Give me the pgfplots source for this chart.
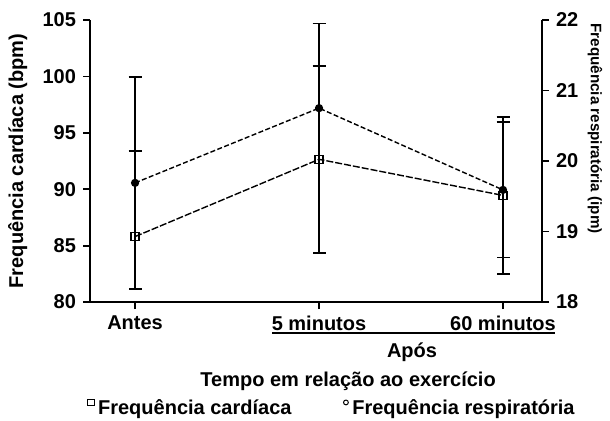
\documentclass[border=0pt]{standalone}
\usepackage{fontspec}
\setmainfont{Liberation Sans}
\usepackage{pgfplots}
\pgfplotsset{compat=1.18}
\begin{document}
\bfseries
\begin{tikzpicture}[font=\bfseries]
\pgfplotsset{
  base/.style={
    width=226pt, height=141pt, scale only axis,
    xmin=-0.245, xmax=2.212,
    tick align=outside, major tick length=3.5pt,
    tick style={line width=0.9pt, black},
    axis line style={line width=1pt},
    /pgf/number format/assume math mode=true,
    tick label style={font=\bfseries\fontsize{10}{12}\selectfont},
    label style={font=\bfseries\fontsize{10}{12}\selectfont},
  },
  ebar/.style={draw=none, mark=none, forget plot,
    error bars/.cd, y dir=#1, y explicit,
    error bar style={draw=black, solid, line width=0.9pt},
    error mark options={draw=black, solid, rotate=90, mark size=3.25pt, line width=0.9pt}},
}
\begin{axis}[base,
  axis x line*=bottom, axis y line*=left,
  ymin=80, ymax=105, ytick={80,85,90,95,100,105},
  xtick={0,1,2}, xticklabels={Antes,5 minutos,60 minutos},
  ylabel={Frequência cardíaca (bpm)},
  ylabel style={at={(axis description cs:-0.16,0.5)}, anchor=center},
  xlabel={Tempo em relação ao exercício},
  xlabel style={at={(axis description cs:0.571,-0.28)}, anchor=center},
  legend style={at={(axis description cs:0.538,-0.376)}, anchor=center, draw=none,
    font=\bfseries\fontsize{10}{12}\selectfont, legend columns=2,
    /tikz/every even column/.append style={column sep=24pt}},
  legend image code/.code={\draw[#1] plot coordinates {(0pt,2.8pt)};},
]
\addplot[ebar=plus] coordinates {(0,85.8) +- (0,7.6)};
\addplot[ebar=both] coordinates {(1,92.65) +- (0,8.27) (2,89.45) +- (0,6.95)};
\addplot[black, line width=0.7pt, dash pattern=on 3.5pt off 1pt,
  mark=square, mark size=2pt, mark options={solid, line width=0.7pt}, forget plot]
  coordinates {(0,85.8) (1,92.65) (2,89.45)};
\addlegendimage{only marks, mark=square, mark size=1.6pt, black, line width=0.5pt}
\addlegendentry{Frequência cardíaca}
\addlegendimage{only marks, mark=o, mark size=1.2pt, black, line width=0.5pt}
\addlegendentry{Frequência respiratória}
\end{axis}
\begin{axis}[base,
  axis x line=none, axis y line*=right,
  ymin=18, ymax=22, ytick={18,19,20,21,22},
  ylabel={Frequência respiratória (ipm)},
  ylabel style={at={(axis description cs:1.117,0.615)}, anchor=center, rotate=180, font=\bfseries\fontsize{7.6}{9}\selectfont},
]
\addplot[ebar=both] coordinates {(0,19.69) +- (0,1.5) (2,19.59) +- (0,0.96)};
\addplot[ebar=plus] coordinates {(1,20.75) +- (0,1.2)};
\addplot[black, line width=0.7pt, dash pattern=on 2.5pt off 1.2pt,
  mark=*, mark size=1.7pt, mark options={solid, fill=black}]
  coordinates {(0,19.69) (1,20.75) (2,19.59)};
\end{axis}
\draw[line width=0.8pt] (91pt,-15.5pt) -- (232.5pt,-15.5pt);
\node[font=\bfseries\fontsize{10}{12}\selectfont] at (161pt,-25pt) {Após};
\pgfresetboundingbox
\path[use as bounding box] (-45pt,-59pt) rectangle (260pt,151pt);
\end{tikzpicture}
\end{document}
